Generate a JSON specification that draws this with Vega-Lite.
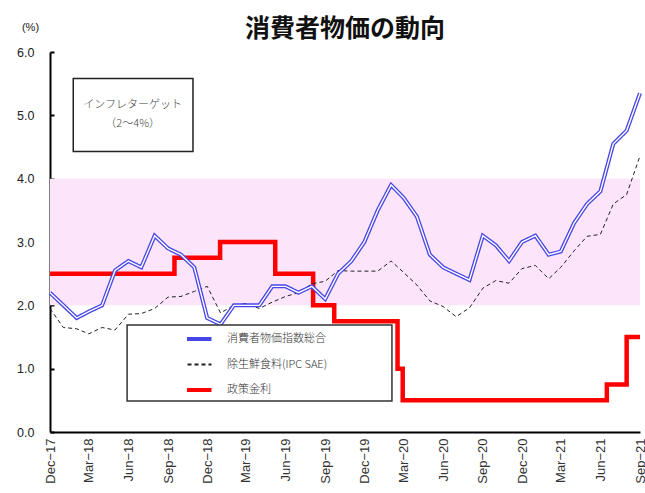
{
  "$schema": "https://vega.github.io/schema/vega-lite/v6.json",
  "width": 590,
  "height": 380,
  "autosize": {"type": "none"},
  "padding": {"left": 50, "top": 52, "right": 5, "bottom": 61},
  "background": "white",
  "title": {
    "text": "消費者物価の動向",
    "font": "Noto Sans CJK JP",
    "fontSize": 25,
    "fontWeight": "bold",
    "color": "#111111",
    "anchor": "middle",
    "frame": "group",
    "baseline": "alphabetic",
    "offset": -17,
    "dy": 24
  },
  "datasets": {
    "prices": [
      {"date": "2017-12-01", "cpi": 2.2, "core": 1.95},
      {"date": "2018-01-01", "cpi": 2.0, "core": 1.65},
      {"date": "2018-02-01", "cpi": 1.8, "core": 1.63},
      {"date": "2018-03-01", "cpi": 1.9, "core": 1.55},
      {"date": "2018-04-01", "cpi": 2.0, "core": 1.65},
      {"date": "2018-05-01", "cpi": 2.55, "core": 1.61},
      {"date": "2018-06-01", "cpi": 2.7, "core": 1.86},
      {"date": "2018-07-01", "cpi": 2.6, "core": 1.87},
      {"date": "2018-08-01", "cpi": 3.1, "core": 1.95},
      {"date": "2018-09-01", "cpi": 2.9, "core": 2.13},
      {"date": "2018-10-01", "cpi": 2.8, "core": 2.14},
      {"date": "2018-11-01", "cpi": 2.6, "core": 2.22},
      {"date": "2018-12-01", "cpi": 1.8, "core": 2.3},
      {"date": "2019-01-01", "cpi": 1.7, "core": 1.88},
      {"date": "2019-02-01", "cpi": 2.0, "core": 2.0},
      {"date": "2019-03-01", "cpi": 2.0, "core": 2.03},
      {"date": "2019-04-01", "cpi": 2.0, "core": 1.95},
      {"date": "2019-05-01", "cpi": 2.3, "core": 2.05},
      {"date": "2019-06-01", "cpi": 2.3, "core": 2.14},
      {"date": "2019-07-01", "cpi": 2.2, "core": 2.2},
      {"date": "2019-08-01", "cpi": 2.3, "core": 2.34},
      {"date": "2019-09-01", "cpi": 2.1, "core": 2.38},
      {"date": "2019-10-01", "cpi": 2.5, "core": 2.55},
      {"date": "2019-11-01", "cpi": 2.7, "core": 2.54},
      {"date": "2019-12-01", "cpi": 3.0, "core": 2.54},
      {"date": "2020-01-01", "cpi": 3.5, "core": 2.54},
      {"date": "2020-02-01", "cpi": 3.9, "core": 2.7},
      {"date": "2020-03-01", "cpi": 3.7, "core": 2.52},
      {"date": "2020-04-01", "cpi": 3.4, "core": 2.32},
      {"date": "2020-05-01", "cpi": 2.8, "core": 2.07},
      {"date": "2020-06-01", "cpi": 2.6, "core": 1.98},
      {"date": "2020-07-01", "cpi": 2.5, "core": 1.82},
      {"date": "2020-08-01", "cpi": 2.4, "core": 1.96},
      {"date": "2020-09-01", "cpi": 3.1, "core": 2.27},
      {"date": "2020-10-01", "cpi": 2.95, "core": 2.39},
      {"date": "2020-11-01", "cpi": 2.7, "core": 2.35},
      {"date": "2020-12-01", "cpi": 3.0, "core": 2.58},
      {"date": "2021-01-01", "cpi": 3.1, "core": 2.63},
      {"date": "2021-02-01", "cpi": 2.8, "core": 2.42},
      {"date": "2021-03-01", "cpi": 2.85, "core": 2.6},
      {"date": "2021-04-01", "cpi": 3.3, "core": 2.86},
      {"date": "2021-05-01", "cpi": 3.6, "core": 3.09},
      {"date": "2021-06-01", "cpi": 3.8, "core": 3.12},
      {"date": "2021-07-01", "cpi": 4.55, "core": 3.6},
      {"date": "2021-08-01", "cpi": 4.76, "core": 3.75},
      {"date": "2021-09-01", "cpi": 5.35, "core": 4.36}
    ],
    "rates": [
      {"date": "2017-12-01", "policy": 2.5},
      {"date": "2018-09-16", "policy": 2.75},
      {"date": "2018-12-31", "policy": 3.0},
      {"date": "2019-05-08", "policy": 2.5},
      {"date": "2019-08-04", "policy": 2.0},
      {"date": "2019-09-22", "policy": 1.75},
      {"date": "2020-02-16", "policy": 1.0},
      {"date": "2020-02-28", "policy": 0.5},
      {"date": "2021-06-16", "policy": 0.75},
      {"date": "2021-08-01", "policy": 1.5},
      {"date": "2021-09-01", "policy": 1.5}
    ]
  },
  "layer": [
    {
      "data": {"values": [{}]},
      "mark": {"type": "rect", "color": "#fce4fb"},
      "encoding": {
        "y": {"datum": 4, "type": "quantitative", "title": "(%)", "scale": {"domain": [0, 6], "nice": false}},
        "y2": {"datum": 2}
      }
    },
    {
      "data": {"name": "rates"},
      "transform": [{"fold": ["policy"], "as": ["series", "value"]}],
      "mark": {"type": "line", "interpolate": "step-after", "strokeJoin": "miter", "strokeCap": "butt"},
      "encoding": {
        "x": {
          "field": "date",
          "type": "temporal",
          "title": null,
          "scale": {
            "type": "utc",
            "domain": [
              {"year": 2017, "month": 12, "date": 1, "utc": true},
              {"year": 2021, "month": 9, "date": 1, "utc": true}
            ]
          },
          "axis": {
            "values": [
              {"year": 2017, "month": 12, "date": 1, "utc": true},
              {"year": 2018, "month": 3, "date": 1, "utc": true},
              {"year": 2018, "month": 6, "date": 1, "utc": true},
              {"year": 2018, "month": 9, "date": 1, "utc": true},
              {"year": 2018, "month": 12, "date": 1, "utc": true},
              {"year": 2019, "month": 3, "date": 1, "utc": true},
              {"year": 2019, "month": 6, "date": 1, "utc": true},
              {"year": 2019, "month": 9, "date": 1, "utc": true},
              {"year": 2019, "month": 12, "date": 1, "utc": true},
              {"year": 2020, "month": 3, "date": 1, "utc": true},
              {"year": 2020, "month": 6, "date": 1, "utc": true},
              {"year": 2020, "month": 9, "date": 1, "utc": true},
              {"year": 2020, "month": 12, "date": 1, "utc": true},
              {"year": 2021, "month": 3, "date": 1, "utc": true},
              {"year": 2021, "month": 6, "date": 1, "utc": true},
              {"year": 2021, "month": 9, "date": 1, "utc": true}
            ],
            "tickCount": 24,
            "labelOverlap": false,
            "labelBound": false,
            "labelExpr": "utcFormat(datum.value, '%b') + '−' + utcFormat(datum.value, '%y')"
          }
        },
        "y": {
          "field": "value",
          "type": "quantitative",
          "title": "(%)",
          "scale": {"domain": [0, 6], "nice": false},
          "axis": {"values": [0, 1, 2, 3, 4, 5, 6], "format": ".1f"}
        },
        "color": {
          "field": "series",
          "type": "nominal",
          "scale": {"domain": ["cpi", "core", "policy"], "range": ["#4646e6", "#222222", "#ff0000"]},
          "legend": {
            "orient": "none",
            "legendX": 137,
            "legendY": 275,
            "symbolStrokeWidth": {"expr": "datum.value == 'core' ? 2 : 4"},
            "labelOffset": 29,
            "labelExpr": "datum.label == 'cpi' ? '消費者物価指数総合' : datum.label == 'core' ? '除生鮮食料(IPC SAE)' : '政策金利'"
          }
        },
        "strokeDash": {
          "field": "series",
          "type": "nominal",
          "scale": {"type": "ordinal", "domain": ["cpi", "core", "policy"], "range": [[1, 0], [4, 3], [1, 0]]}
        },
        "strokeWidth": {
          "field": "series",
          "type": "nominal",
          "legend": null,
          "scale": {"type": "ordinal", "domain": ["cpi", "core", "policy"], "range": [5, 2.3, 4.5]}
        }
      }
    },
    {
      "data": {"name": "prices"},
      "transform": [{"fold": ["core", "cpi"], "as": ["series", "value"]}],
      "mark": {"type": "line", "strokeJoin": "miter"},
      "encoding": {
        "x": {"field": "date", "type": "temporal", "title": null},
        "y": {"field": "value", "type": "quantitative", "title": "(%)"},
        "color": {"field": "series", "type": "nominal"},
        "strokeDash": {"field": "series", "type": "nominal"},
        "strokeWidth": {"field": "series", "type": "nominal", "legend": null}
      }
    },
    {
      "data": {"name": "prices"},
      "mark": {"type": "line", "color": "white", "strokeWidth": 1.4, "strokeJoin": "miter"},
      "encoding": {
        "x": {"field": "date", "type": "temporal", "title": null},
        "y": {"field": "cpi", "type": "quantitative", "title": "(%)"}
      }
    },
    {
      "data": {"values": [{}]},
      "mark": {"type": "rect", "fill": "white", "stroke": "#333333", "strokeWidth": 1.5},
      "encoding": {
        "x": {"datum": {"year": 2018, "month": 5, "date": 29, "utc": true}, "type": "temporal", "title": null},
        "x2": {"datum": {"year": 2020, "month": 2, "date": 3, "utc": true}},
        "y": {"datum": 1.69, "type": "quantitative", "title": "(%)"},
        "y2": {"datum": 0.49}
      }
    },
    {
      "data": {"values": [{}]},
      "mark": {"type": "rect", "fill": "white", "stroke": "#222222", "strokeWidth": 1.5},
      "encoding": {
        "x": {"datum": {"year": 2018, "month": 1, "date": 24, "utc": true}, "type": "temporal", "title": null},
        "x2": {"datum": {"year": 2018, "month": 10, "date": 29, "utc": true}},
        "y": {"datum": 5.58, "type": "quantitative", "title": "(%)"},
        "y2": {"datum": 4.43}
      }
    },
    {
      "data": {"values": [{}]},
      "mark": {
        "type": "text",
        "text": "インフレターゲット\n（2〜4%）",
        "lineBreak": "\n",
        "lineHeight": 19,
        "font": "Noto Sans CJK JP",
        "fontSize": 11,
        "fontWeight": 300,
        "color": "#444444",
        "align": "center",
        "baseline": "middle"
      },
      "encoding": {
        "x": {"datum": {"year": 2018, "month": 6, "date": 11, "utc": true}, "type": "temporal", "title": null},
        "y": {"datum": 5.16, "type": "quantitative", "title": "(%)"}
      }
    }
  ],
  "config": {
    "view": {"stroke": null},
    "axis": {"grid": false},
    "axisX": {
      "domainColor": "#000000",
      "domainWidth": 2,
      "ticks": false,
      "labelAngle": 270,
      "labelPadding": 6,
      "labelFont": "Liberation Sans Narrow, Liberation Sans",
      "labelFontSize": 13,
      "labelColor": "#333333",
      "labelFlush": false,
      "labelOverlap": false
    },
    "axisY": {
      "domainColor": "#000000",
      "domainWidth": 2,
      "ticks": true,
      "tickColor": "#000000",
      "tickWidth": 2,
      "tickSize": -4,
      "labelPadding": 20,
      "labelFont": "Liberation Sans",
      "labelFontSize": 12.5,
      "labelColor": "#222222",
      "titleAngle": 0,
      "titleX": -20,
      "titleY": -25,
      "titleAlign": "center",
      "titleBaseline": "middle",
      "titleFont": "Liberation Sans",
      "titleFontSize": 11,
      "titleFontWeight": "normal",
      "titleColor": "#222222"
    },
    "legend": {
      "title": null,
      "padding": 0,
      "symbolType": "stroke",
      "symbolSize": 1444,
      "clipHeight": 24,
      "rowPadding": 1.5,
      "labelFont": "Noto Sans CJK JP",
      "labelFontSize": 11,
      "labelFontWeight": 300,
      "labelColor": "#333333",
      "labelLimit": 300
    }
  }
}
